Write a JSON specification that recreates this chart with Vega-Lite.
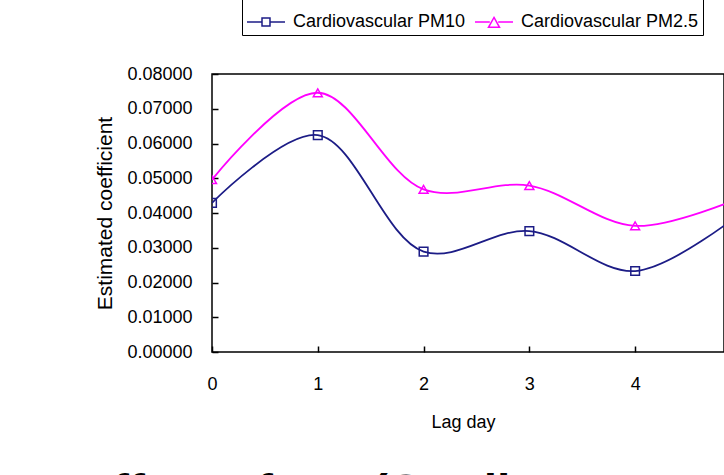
{
  "$schema": "https://vega.github.io/schema/vega-lite/v6.json",
  "autosize": "none",
  "width": 512,
  "height": 278,
  "padding": {"left": 212, "top": 74, "right": 0, "bottom": 123},
  "background": "white",
  "config": {
    "view": {"stroke": "#000000", "strokeWidth": 1.5},
    "font": "Liberation Sans"
  },
  "title": {
    "text": "ffect of PM (Cardi",
    "orient": "bottom",
    "anchor": "start",
    "frame": "group",
    "dx": -99,
    "offset": 39,
    "baseline": "top",
    "fontSize": 48,
    "fontWeight": "bold",
    "font": "Liberation Sans",
    "color": "#000000"
  },
  "data": {
    "values": [
      {"lag": 0, "coef": 0.0429, "series": "Cardiovascular PM10"},
      {"lag": 1, "coef": 0.0624, "series": "Cardiovascular PM10"},
      {"lag": 2, "coef": 0.0289, "series": "Cardiovascular PM10"},
      {"lag": 3, "coef": 0.0348, "series": "Cardiovascular PM10"},
      {"lag": 4, "coef": 0.0233, "series": "Cardiovascular PM10"},
      {"lag": 5, "coef": 0.0400, "series": "Cardiovascular PM10"},
      {"lag": 0, "coef": 0.0496, "series": "Cardiovascular PM2.5"},
      {"lag": 1, "coef": 0.0746, "series": "Cardiovascular PM2.5"},
      {"lag": 2, "coef": 0.0468, "series": "Cardiovascular PM2.5"},
      {"lag": 3, "coef": 0.0479, "series": "Cardiovascular PM2.5"},
      {"lag": 4, "coef": 0.0363, "series": "Cardiovascular PM2.5"},
      {"lag": 5, "coef": 0.0445, "series": "Cardiovascular PM2.5"}
    ]
  },
  "encoding": {
    "x": {
      "field": "lag",
      "type": "quantitative",
      "scale": {"domain": [0, 4.84], "nice": false, "zero": false},
      "axis": {
        "values": [0, 1, 2, 3, 4],
        "format": "d",
        "grid": false,
        "domain": false,
        "labelFlush": false,
        "tickSize": -6,
        "tickColor": "#000000",
        "tickWidth": 1.5,
        "labelPadding": 29,
        "labelFontSize": 18,
        "labelColor": "#000000",
        "labelFont": "Liberation Sans",
        "title": "Lag day",
        "titleFont": "Liberation Sans",
        "titleFontSize": 18,
        "titleFontWeight": "normal",
        "titleColor": "#000000",
        "titleX": 251,
        "titleY": 75,
        "titleBaseline": "alphabetic",
        "titleAnchor": "middle",
        "titleAlign": "center"
      }
    },
    "y": {
      "field": "coef",
      "type": "quantitative",
      "scale": {"domain": [0, 0.08], "nice": false},
      "axis": {
        "values": [0, 0.01, 0.02, 0.03, 0.04, 0.05, 0.06, 0.07, 0.08],
        "format": ".5f",
        "grid": false,
        "domain": false,
        "labelFlush": false,
        "tickSize": -6,
        "tickColor": "#000000",
        "tickWidth": 1.5,
        "labelPadding": 26,
        "labelFontSize": 18,
        "labelColor": "#000000",
        "labelFont": "Liberation Sans",
        "title": "Estimated coefficient",
        "titleFont": "Liberation Sans",
        "titleFontSize": 21,
        "titleFontWeight": "normal",
        "titleColor": "#000000",
        "titleX": -107,
        "titleY": 139,
        "titleAngle": -90,
        "titleBaseline": "middle",
        "titleAlign": "center"
      }
    },
    "color": {
      "field": "series",
      "type": "nominal",
      "scale": {
        "domain": ["Cardiovascular PM10", "Cardiovascular PM2.5"],
        "range": ["#1c1c86", "#ff00ff"]
      },
      "legend": {
        "orient": "none",
        "legendX": 30,
        "legendY": -76,
        "direction": "horizontal",
        "title": null,
        "labelFontSize": 18,
        "labelFont": "Liberation Sans",
        "labelColor": "#000000",
        "labelLimit": 400,
        "labelOffset": 7,
        "columnPadding": 6,
        "symbolSize": 1444,
        "symbolStrokeWidth": 1.5,
        "symbolType": "M-1,0H1",
        "strokeColor": "#000000",
        "fillColor": "#ffffff",
        "padding": 4,
        "encode": {
          "symbols": {
            "update": {
              "shape": {"signal": "datum.value == 'Cardiovascular PM10' ? 'M-1,0H-0.21M0.21,0H1M-0.21,-0.21H0.21V0.21H-0.21Z' : 'M-1,0H-0.22M0.22,0H1M0,-0.24L0.29,0.28H-0.29Z'"},
              "fill": {"value": "transparent"}
            }
          }
        }
      }
    }
  },
  "layer": [
    {
      "mark": {"type": "line", "interpolate": "catmull-rom", "clip": true, "strokeWidth": 1.8}
    },
    {
      "transform": [{"filter": "datum.series == 'Cardiovascular PM10'"}],
      "mark": {"type": "point", "shape": "square", "filled": false, "clip": true, "strokeWidth": 1.5, "size": 75, "opacity": 1}
    },
    {
      "transform": [{"filter": "datum.series == 'Cardiovascular PM2.5'"}],
      "mark": {"type": "point", "shape": "triangle-up", "filled": false, "clip": true, "strokeWidth": 1.5, "size": 80, "opacity": 1}
    }
  ]
}
